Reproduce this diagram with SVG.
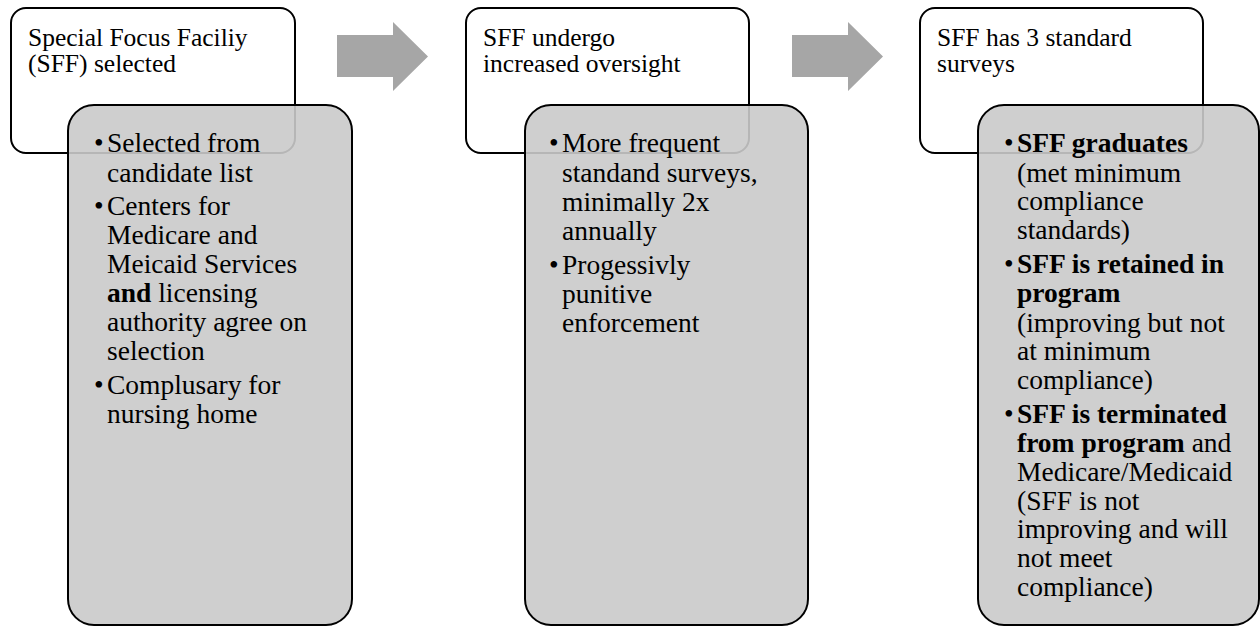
<svg xmlns="http://www.w3.org/2000/svg" width="1260" height="627" viewBox="0 0 1260 627">
<style>
.top{fill:#fff;stroke:#000;stroke-width:2}
.sub{fill:#cacaca;fill-opacity:0.9;stroke:#000;stroke-width:2}
.arr{fill:#a6a6a6}
text{font-family:"Liberation Serif","Times New Roman",serif;fill:#000}
.t{font-size:25.5px}
.b{font-size:27.5px}
.bd{font-weight:bold}
</style>
<rect width="1260" height="627" fill="#fff"/>
<g id="connectors">
<polygon class="arr" points="337,35 393,35 393,22 428,56.5 393,91 393,77 337,77"/>
<polygon class="arr" points="792,35 848,35 848,22 883,56.5 848,91 848,77 792,77"/>
</g>
<g id="node1">
<rect class="top" x="11" y="8" width="284" height="145" rx="15"/>
<text class="t"><tspan x="28" y="46">Special Focus Faciliy</tspan><tspan x="28" y="72">(SFF) selected</tspan></text>
<rect class="sub" x="68" y="105" width="284" height="520" rx="26"/>
<text class="b"><tspan x="94" y="152">•</tspan><tspan x="107" y="152">Selected from</tspan><tspan x="107" y="181.5">candidate list</tspan><tspan x="94" y="215">•</tspan><tspan x="107" y="215">Centers for</tspan><tspan x="107" y="243.5">Medicare and</tspan><tspan x="107" y="272.5">Meicaid Services</tspan><tspan x="107" y="301.5" class="bd">and</tspan><tspan> licensing</tspan><tspan x="107" y="331">authority agree on</tspan><tspan x="107" y="360">selection</tspan><tspan x="94" y="394">•</tspan><tspan x="107" y="394">Complusary for</tspan><tspan x="107" y="422.5">nursing home</tspan></text>
</g>
<g id="node2">
<rect class="top" x="466" y="8" width="283" height="145" rx="15"/>
<text class="t"><tspan x="483" y="46">SFF undergo</tspan><tspan x="483" y="72">increased oversight</tspan></text>
<rect class="sub" x="525" y="105" width="283" height="520" rx="26"/>
<text class="b"><tspan x="549" y="152">•</tspan><tspan x="562" y="152">More frequent</tspan><tspan x="562" y="181.5">standand surveys,</tspan><tspan x="562" y="210.5">minimally 2x</tspan><tspan x="562" y="239.5">annually</tspan><tspan x="549" y="273.5">•</tspan><tspan x="562" y="273.5">Progessivly</tspan><tspan x="562" y="302.5">punitive</tspan><tspan x="562" y="331.5">enforcement</tspan></text>
</g>
<g id="node3">
<rect class="top" x="920" y="8" width="283" height="145" rx="15"/>
<text class="t"><tspan x="937" y="46">SFF has 3 standard</tspan><tspan x="937" y="72">surveys</tspan></text>
<rect class="sub" x="978" y="105" width="281" height="520" rx="26"/>
<text class="b"><tspan x="1004" y="152">•</tspan><tspan x="1017" y="152" class="bd">SFF graduates</tspan><tspan x="1017" y="181.5">(met minimum</tspan><tspan x="1017" y="210">compliance</tspan><tspan x="1017" y="239">standards)</tspan><tspan x="1004" y="273">•</tspan><tspan x="1017" y="273" class="bd">SFF is retained in</tspan><tspan x="1017" y="302" class="bd">program</tspan><tspan x="1017" y="331.5">(improving but not</tspan><tspan x="1017" y="360">at minimum</tspan><tspan x="1017" y="389">compliance)</tspan><tspan x="1004" y="423">•</tspan><tspan x="1017" y="423" class="bd">SFF is terminated</tspan><tspan x="1017" y="452" class="bd">from program</tspan><tspan> and</tspan><tspan x="1017" y="480.5">Medicare/Medicaid</tspan><tspan x="1017" y="509.5">(SFF is not</tspan><tspan x="1017" y="538">improving and will</tspan><tspan x="1017" y="567">not meet</tspan><tspan x="1017" y="596">compliance)</tspan></text>
</g>
</svg>
